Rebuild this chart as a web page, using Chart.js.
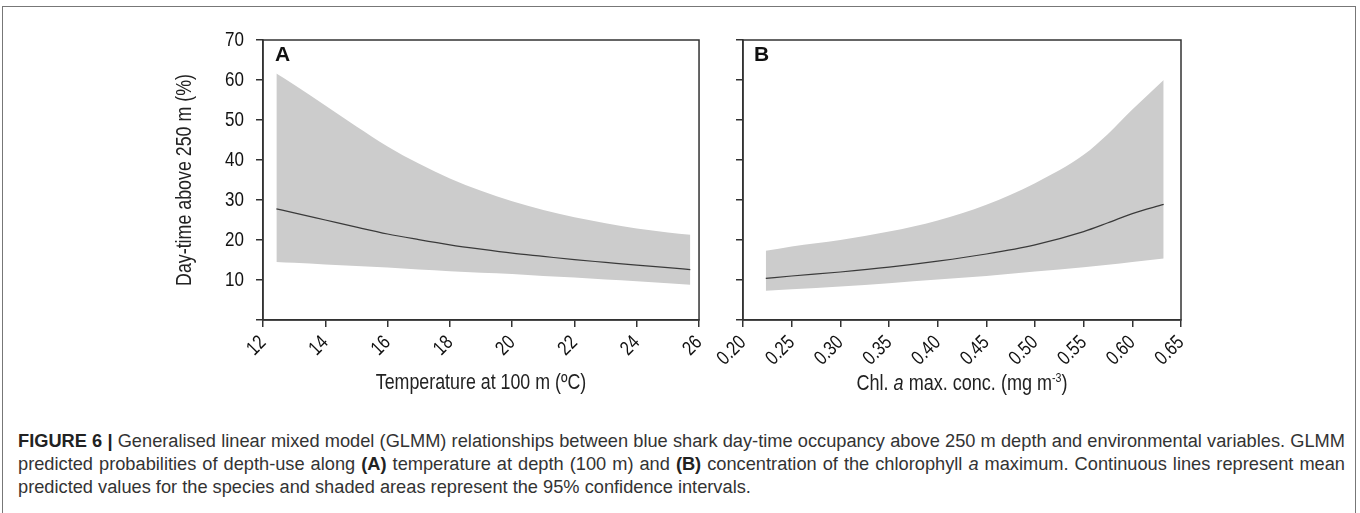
<!DOCTYPE html>
<html>
<head>
<meta charset="utf-8">
<script src="https://cdn.jsdelivr.net/npm/chart.js@4.4.1/dist/chart.umd.min.js"></script>
<style>
  html, body { margin: 0; padding: 0; background: #fff; }
  #page { position: relative; width: 1360px; height: 513px; overflow: hidden; }
  #frame { position: absolute; left: 2px; top: 6px; width: 1352px; height: 520px; border: 1px solid #777; }
  canvas { position: absolute; top: 0; }
  #cA { left: 160px; }
  #cB { left: 700px; }
  .panel { position: absolute; top: 43px; font: bold 21px 'Liberation Sans', Arial, sans-serif; line-height: 21px; color: #111; }
  #titleB { position: absolute; left: 762px; width: 400px; top: 370px; text-align: center;
    font: 22px 'Liberation Sans', Arial, sans-serif; line-height: 26px; color: #222;
    transform: scaleX(0.82); transform-origin: 50% 50%; }
  #titleB sup { font-size: 13px; vertical-align: 8px; line-height: 0; }
  .cap { position: absolute; left: 18px; white-space: nowrap; font: 15px 'Liberation Sans', Arial, sans-serif;
    line-height: 18px; color: #333; }
  .cap.just { width: 1327px; text-align: justify; text-align-last: justify; white-space: normal; }
  .cap b { color: #222; }
</style>
</head>
<body>
<div id="page">
  <div id="frame"></div>
  <canvas id="cA" width="560" height="410"></canvas>
  <canvas id="cB" width="660" height="410"></canvas>
  <div class="panel" style="left:275px">A</div>
  <div class="panel" style="left:754px">B</div>
  <div id="titleB">Chl. <i>a</i> max. conc. (mg m<sup>-3</sup>)</div>
  <div class="cap" id="cap1" style="top:432px"><b>FIGURE 6 |</b> Generalised linear mixed model (GLMM) relationships between blue shark day-time occupancy above 250 m depth and environmental variables. GLMM</div>
  <div class="cap" id="cap2" style="top:455px">predicted probabilities of depth-use along <b>(A)</b> temperature at depth (100 m) and <b>(B)</b> concentration of the chlorophyll <i>a</i> maximum. Continuous lines represent mean</div>
  <div class="cap" id="cap3" style="top:478px">predicted values for the species and shaded areas represent the 95% confidence intervals.</div>
</div>
<script>
// panel A: temperature at 100 m
const tempX = [12.43, 13, 14, 15, 16, 17, 18, 19, 20, 21, 22, 23, 24, 25, 25.72];
const tempUpper = [61.6, 58.8, 53.6, 48.4, 43.4, 39.1, 35.4, 32.3, 29.7, 27.5, 25.7, 24.2, 22.9, 21.9, 21.3];
const tempMean = [27.8, 26.8, 25.0, 23.2, 21.5, 20.1, 18.8, 17.7, 16.7, 15.9, 15.1, 14.4, 13.7, 13.1, 12.6];
const tempLower = [14.5, 14.3, 13.9, 13.5, 13.1, 12.6, 12.2, 11.8, 11.5, 11.0, 10.6, 10.1, 9.7, 9.2, 8.8];

// panel B: chlorophyll a max concentration
const chlX = [0.2234, 0.25, 0.30, 0.35, 0.40, 0.45, 0.50, 0.55, 0.575, 0.60, 0.6322];
const chlUpper = [17.3, 18.4, 20.0, 22.1, 24.9, 28.8, 34.2, 41.3, 46.5, 52.6, 60.0];
const chlMean = [10.4, 11.0, 12.0, 13.2, 14.7, 16.5, 18.8, 22.1, 24.3, 26.6, 28.9];
const chlLower = [7.3, 7.7, 8.4, 9.2, 10.1, 11.0, 12.1, 13.2, 13.8, 14.5, 15.4];

const tempTicks = [12, 14, 16, 18, 20, 22, 24, 26];
const chlTicks = [0.20, 0.25, 0.30, 0.35, 0.40, 0.45, 0.50, 0.55, 0.60, 0.65];
const yTicks = [0, 10, 20, 30, 40, 50, 60, 70];

const ink = '#333';
const sans = "'Liberation Sans', Arial, sans-serif";

const pts = (xs, ys) => xs.map((x, i) => ({ x: x, y: ys[i] }));

// the figure uses a narrow face; squeeze canvas text along its baseline
const narrowText = {
  id: 'narrowText',
  beforeDraw(chart) {
    const ctx = chart.ctx;
    if (ctx._narrow) return;
    const fill = ctx.fillText.bind(ctx);
    ctx.fillText = function (text, x, y, maxWidth) {
      ctx.save();
      ctx.translate(x, y);
      ctx.scale(0.81, 1);
      if (maxWidth === undefined) fill(text, 0, 0);
      else fill(text, 0, 0, maxWidth / 0.81);
      ctx.restore();
    };
    ctx._narrow = true;
  }
};

// box around the plot area
const framePlugin = {
  id: 'frame',
  afterDraw(chart) {
    const a = chart.chartArea, ctx = chart.ctx;
    ctx.save();
    ctx.strokeStyle = ink;
    ctx.lineWidth = 1.5;
    ctx.strokeRect(a.left, a.top, a.right - a.left, a.bottom - a.top);
    ctx.restore();
  }
};

function makePanel(id, xs, lower, upper, mean, xTicks, cfg) {
  return new Chart(document.getElementById(id), {
    type: 'line',
    data: {
      datasets: [
        { data: pts(xs, mean), borderColor: '#3a3a3a', borderWidth: 1.2, pointRadius: 0, fill: false, cubicInterpolationMode: 'monotone' },
        { data: pts(xs, lower), borderWidth: 0, borderColor: 'rgba(0,0,0,0)', pointRadius: 0, fill: false, cubicInterpolationMode: 'monotone' },
        { data: pts(xs, upper), borderWidth: 0, borderColor: 'rgba(0,0,0,0)', pointRadius: 0, fill: '-1', backgroundColor: '#cccccc', cubicInterpolationMode: 'monotone' }
      ]
    },
    options: {
      responsive: false,
      animation: false,
      events: [],
      layout: { padding: { top: 40, right: cfg.right, bottom: 0, left: 0 } },
      plugins: { legend: { display: false }, tooltip: { enabled: false } },
      scales: {
        x: {
          type: 'linear',
          min: xTicks[0],
          max: xTicks[xTicks.length - 1],
          afterBuildTicks: s => { s.ticks = xTicks.map(v => ({ value: v })); },
          afterFit: s => { s.height = 90; },
          border: { color: ink, width: 1.5 },
          grid: { drawOnChartArea: false, drawTicks: true, tickLength: 7, color: ink, lineWidth: 1.5 },
          ticks: {
            autoSkip: false, minRotation: 45, maxRotation: 45, padding: 4,
            color: '#111', font: { family: sans, size: 20 },
            callback: cfg.xFmt
          },
          title: cfg.xTitle ? { display: true, text: cfg.xTitle, color: '#222', font: { family: sans, size: 22 }, padding: { top: 0, bottom: 14 } } : { display: false }
        },
        y: {
          min: 0, max: 70,
          afterBuildTicks: s => { s.ticks = yTicks.map(v => ({ value: v })); },
          afterFit: s => { s.width = cfg.yWidth; },
          border: { color: ink, width: 1.5 },
          grid: { drawOnChartArea: false, drawTicks: true, tickLength: 7, color: ink, lineWidth: 1.5 },
          ticks: {
            padding: 12, color: '#111', font: { family: sans, size: 21 },
            callback: v => (cfg.yLabels && v !== 0) ? String(v) : ''
          },
          title: cfg.yTitle ? { display: true, text: cfg.yTitle, color: '#222', font: { family: sans, size: 22 }, padding: { top: 12, bottom: 0 } } : { display: false }
        }
      }
    },
    plugins: [narrowText, framePlugin]
  });
}

makePanel('cA', tempX, tempLower, tempUpper, tempMean, tempTicks, {
  right: 17, yWidth: 103, yLabels: true,
  yTitle: 'Day-time above 250 m (%)',
  xTitle: 'Temperature at 100 m (ºC)',
  xFmt: v => String(v)
});

makePanel('cB', chlX, chlLower, chlUpper, chlMean, chlTicks, {
  right: 179, yWidth: 43, yLabels: false,
  xFmt: v => v.toFixed(2)
});

// caption: last line ends near x=752, the two full lines are justified
const caps = [1, 2, 3].map(i => document.getElementById('cap' + i));
const w3 = caps[2].getBoundingClientRect().width;
const w1 = caps[0].getBoundingClientRect().width;
let size = Math.min(15 * 734 / w3, 15 * 1325 / w1);
caps.forEach(c => { c.style.fontSize = size.toFixed(2) + 'px'; });
caps[0].classList.add('just');
caps[1].classList.add('just');
</script>
</body>
</html>
